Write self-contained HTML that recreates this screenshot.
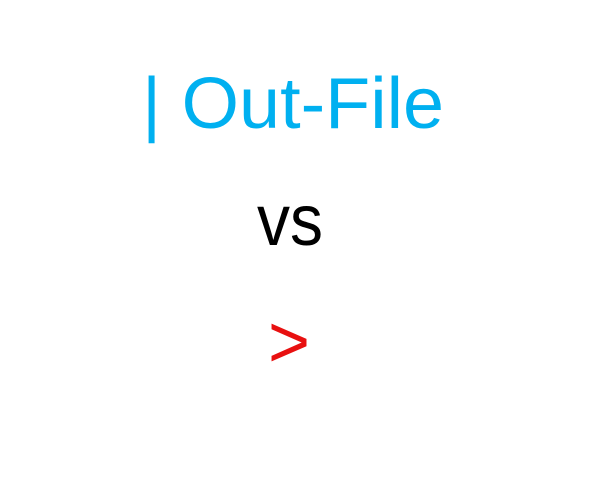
<!DOCTYPE html>
<html><head><meta charset="utf-8"><style>html,body{margin:0;padding:0;background:#fff;width:595px;height:478px;overflow:hidden}</style></head>
<body>
<svg width="595" height="478" xmlns="http://www.w3.org/2000/svg" style="display:block">
<rect width="595" height="478" fill="#fff"/>
<text x="142" y="128" font-family="Liberation Sans, sans-serif" font-size="72" fill="#00b0f0" textLength="302" lengthAdjust="spacingAndGlyphs">| Out-File</text>
<text x="257" y="245" font-family="Liberation Sans, sans-serif" font-size="72" fill="#000" textLength="66" lengthAdjust="spacingAndGlyphs">vs</text>
<text x="268" y="367" font-family="Liberation Sans, sans-serif" font-size="74" fill="#e81010" textLength="42" lengthAdjust="spacingAndGlyphs">&gt;</text>
</svg>
</body></html>
